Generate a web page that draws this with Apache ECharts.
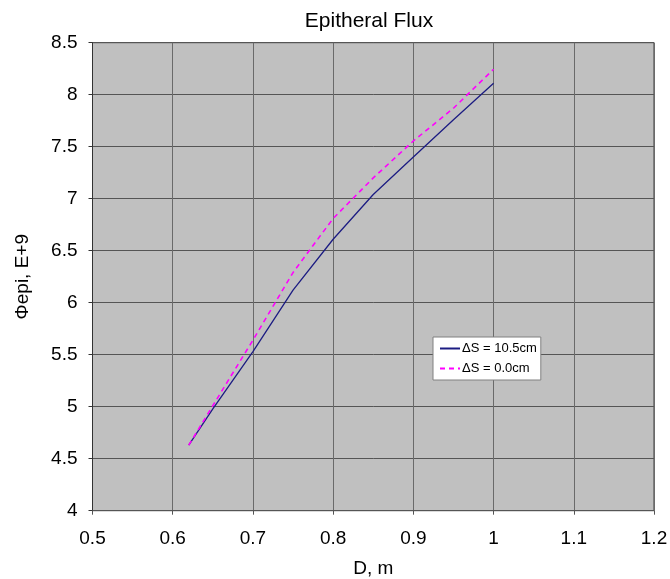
<!DOCTYPE html>
<html>
<head>
<meta charset="utf-8">
<script src="https://cdn.jsdelivr.net/npm/echarts@6/dist/echarts.min.js"></script>
<style>
  html, body { margin: 0; padding: 0; background: #fff; }
  #chart { width: 670px; height: 579px; }
</style>
</head>
<body>
<div id="chart"></div>
<script>
// distance D, m
const dValues = [0.62, 0.65, 0.7, 0.75, 0.8, 0.85, 0.9, 0.95, 1.0]
// epithermal flux, E+9
const flux105 = [4.63, 4.98, 5.53, 6.12, 6.61, 7.04, 7.40, 7.76, 8.11]
const flux00 = [4.63, 5.01, 5.64, 6.29, 6.81, 7.20, 7.555, 7.87, 8.245]
const seriesNames = ['\u0394S = 10.5cm', '\u0394S = 0.0cm']

const font = 'Liberation Sans, Arial, sans-serif'

const toPairs = (ys) => dValues.map((d, i) => [d, ys[i]])

const option = {
  backgroundColor: '#ffffff',
  animation: false,
  title: {
    text: 'Epitheral Flux',
    left: 369,
    top: 11,
    textAlign: 'center',
    padding: 0,
    textStyle: { fontFamily: font, fontSize: 21, fontWeight: 'normal', color: '#000' }
  },
  legend: {
    orient: 'vertical',
    left: 433,
    top: 337,
    padding: [5, 4, 5, 6],
    itemGap: 7,
    itemWidth: 20,
    itemHeight: 10,
    itemStyle: { opacity: 0 },
    backgroundColor: '#ffffff',
    borderColor: '#808080',
    borderWidth: 1,
    textStyle: { fontFamily: font, fontSize: 13, color: '#000', padding: [0, 0, 0, -3] },
    data: seriesNames
  },
  grid: {
    left: 92.5,
    top: 42.7,
    right: 16,
    bottom: 68.3,
    outerBoundsMode: 'none',
    show: true,
    backgroundColor: '#c0c0c0',
    borderColor: '#3a3a3a',
    borderWidth: 1
  },
  xAxis: {
    type: 'value',
    min: 0.5,
    max: 1.2,
    interval: 0.1,
    name: 'D, m',
    nameLocation: 'middle',
    nameGap: 49,
    nameTextStyle: { fontFamily: font, fontSize: 19, color: '#000' },
    axisLine: { show: true, lineStyle: { color: '#555', width: 1 } },
    axisTick: { show: true, inside: false, length: 4, lineStyle: { color: '#555' } },
    axisLabel: { fontFamily: font, fontSize: 19, color: '#000', margin: 19 },
    splitLine: { show: true, lineStyle: { color: '#6a6a6a', width: 1 } }
  },
  yAxis: {
    type: 'value',
    min: 4,
    max: 8.5,
    interval: 0.5,
    name: '\u03A6epi, E+9',
    nameLocation: 'middle',
    nameGap: 60,
    nameRotate: 90,
    nameTextStyle: { fontFamily: font, fontSize: 19, color: '#000' },
    axisLine: { show: true, lineStyle: { color: '#333', width: 1 } },
    axisTick: { show: true, inside: false, length: 4, lineStyle: { color: '#333' } },
    axisLabel: { fontFamily: font, fontSize: 19, color: '#000', margin: 15 },
    splitLine: { show: true, lineStyle: { color: '#555', width: 1 } }
  },
  series: [
    {
      name: seriesNames[0],
      type: 'line',
      data: toPairs(flux105),
      symbol: 'none',
      smooth: false,
      lineStyle: { color: '#1c1c82', width: 1.3 },
      itemStyle: { color: '#6a6ad8' }
    },
    {
      name: seriesNames[1],
      type: 'line',
      data: toPairs(flux00),
      symbol: 'none',
      smooth: false,
      lineStyle: { color: '#ff00ff', width: 1.6, type: [5, 4] },
      itemStyle: { color: '#ff00ff' }
    }
  ]
}

const chart = echarts.init(document.getElementById('chart'), null, { renderer: 'canvas' })
chart.setOption(option)
</script>
</body>
</html>
